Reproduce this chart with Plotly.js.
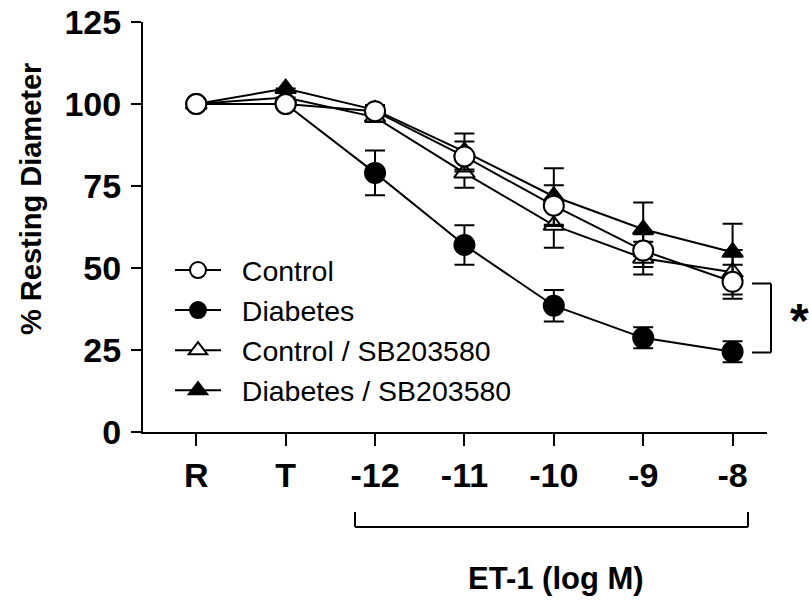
<!DOCTYPE html>
<html>
<head>
<meta charset="utf-8">
<script src="https://cdn.plot.ly/plotly-3.0.1.min.js"></script>
<style>html,body{margin:0;padding:0;background:#fff;}#chart{width:809px;height:602px;}</style>
</head>
<body>
<div id="chart"></div>
<script>
// ---- data ----
var categories = ['R', 'T', '-12', '-11', '-10', '-9', '-8'];

var controlValues   = [100, 100, 97.8, 84, 69, 55.3, 45.8];
var controlErr      = [0, 0, 1.5, 4.6, 6.2, 5, 5.2];

var diabetesValues  = [100, 100, 79, 57, 38.5, 28.7, 24.5];
var diabetesErr     = [0, 0, 6.8, 6, 4.8, 3.2, 3.2];

var controlSBValues = [100, 102, 96, 79, 63, 53, 48.7];
var controlSBErr    = [0, 0, 1.5, 4.5, 6.8, 5, 6.8];

var diabetesSBValues = [100, 104.7, 98.2, 85.5, 71.8, 61.8, 54.8];
var diabetesSBErr    = [0, 0, 1.5, 5.5, 8.6, 8.2, 8.7];

var seriesNames = ['Control', 'Diabetes', 'Control / SB203580', 'Diabetes / SB203580'];
var yTickVals = [0, 25, 50, 75, 100, 125];

// ---- traces ----
var pad = '\u00a0\u00a0';
function mk(name, vals, errs, symbol, fill, rank, msize) {
  return {
    type: 'scatter', mode: 'lines+markers', name: pad + name,
    x: categories, y: vals,
    error_y: {type: 'data', array: errs, visible: true, color: '#000', thickness: 2, width: 10},
    line: {color: '#000', width: 2},
    marker: {symbol: symbol, size: msize, color: fill, line: {color: '#000', width: 2}},
    legendrank: rank, cliponaxis: false
  };
}

var traces = [
  mk(seriesNames[2], controlSBValues, controlSBErr, 'triangle-up', '#fff', 3, 18),
  mk(seriesNames[3], diabetesSBValues, diabetesSBErr, 'triangle-up', '#000', 4, 18),
  mk(seriesNames[1], diabetesValues, diabetesErr, 'circle', '#000', 2, 20),
  mk(seriesNames[0], controlValues, controlErr, 'circle', '#fff', 1, 20)
];

// paper coordinate helpers based on plot area (l=143, t=22, w=624, h=410)
function px(p) { return (p - 143) / 624; }
function py(p) { return (432 - p) / 410; }

var lineStyle = {color: '#000', width: 2};
var shapes = [
  {type: 'line', xref: 'paper', yref: 'paper', x0: px(355), x1: px(748), y0: py(527), y1: py(527), line: lineStyle},
  {type: 'line', xref: 'paper', yref: 'paper', x0: px(355), x1: px(355), y0: py(527), y1: py(512), line: lineStyle},
  {type: 'line', xref: 'paper', yref: 'paper', x0: px(748), x1: px(748), y0: py(527), y1: py(512), line: lineStyle},
  {type: 'line', xref: 'paper', yref: 'paper', x0: px(771), x1: px(771), y0: py(283.5), y1: py(352.5), line: lineStyle},
  {type: 'line', xref: 'paper', yref: 'paper', x0: px(752), x1: px(771), y0: py(283.5), y1: py(283.5), line: lineStyle},
  {type: 'line', xref: 'paper', yref: 'paper', x0: px(752), x1: px(771), y0: py(352.5), y1: py(352.5), line: lineStyle}
];

var fontFam = '"Liberation Sans", Arial, sans-serif';

var layout = {
  width: 809, height: 602,
  margin: {l: 143, r: 42, t: 22, b: 170},
  paper_bgcolor: '#fff', plot_bgcolor: '#fff',
  font: {family: fontFam, color: '#000'},
  showlegend: true,
  legend: {
    x: px(170), y: py(245), xanchor: 'left', yanchor: 'top',
    font: {size: 28.5, family: fontFam, color: '#000'},
    bgcolor: 'rgba(0,0,0,0)', borderwidth: 0, itemwidth: 46,
    traceorder: 'normal'
  },
  xaxis: {
    type: 'category', categoryarray: categories, range: [-0.596, 6.385],
    showline: true, linecolor: '#000', linewidth: 2,
    ticks: 'outside', ticklen: 12, tickwidth: 2, tickcolor: '#000',
    showgrid: false, zeroline: false, fixedrange: true,
    tickfont: {size: 34, family: fontFam, color: '#000', weight: 'bold'}
  },
  yaxis: {
    range: [0, 125], tickvals: yTickVals,
    showline: true, linecolor: '#000', linewidth: 2,
    ticks: 'outside', ticklen: 10, tickwidth: 2, tickcolor: '#000',
    showgrid: false, zeroline: false, fixedrange: true, ticklabelstandoff: 3,
    tickfont: {size: 34, family: fontFam, color: '#000', weight: 'bold'}
  },
  shapes: shapes,
  annotations: [
    {text: '% Resting Diameter', xref: 'paper', yref: 'paper', x: px(31), y: py(199),
     showarrow: false, textangle: -90, xanchor: 'center', yanchor: 'middle',
     font: {size: 29, family: fontFam, color: '#000', weight: 'bold'}},
    {text: 'ET-1 (log M)', xref: 'paper', yref: 'paper', x: px(556), y: py(578),
     showarrow: false, xanchor: 'center', yanchor: 'middle',
     font: {size: 31, family: fontFam, color: '#000', weight: 'bold'}},
    {text: '*', xref: 'paper', yref: 'paper', x: px(799), y: py(320),
     showarrow: false, xanchor: 'center', yanchor: 'middle',
     font: {size: 48, family: fontFam, color: '#000', weight: 'bold'}}
  ]
};

Plotly.newPlot('chart', traces, layout, {displayModeBar: false, staticPlot: true});
</script>
</body>
</html>
